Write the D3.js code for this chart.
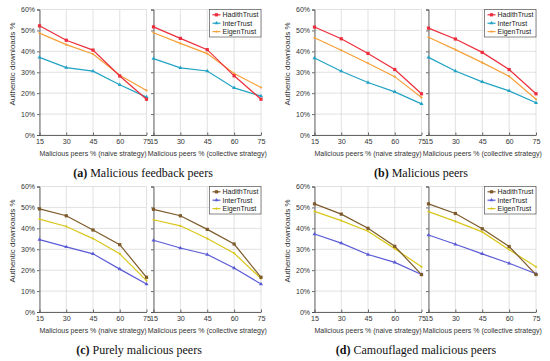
<!DOCTYPE html>
<html><head><meta charset="utf-8">
<script src="https://cdn.jsdelivr.net/npm/d3@7"></script>
<style>body{margin:0;background:#fff}svg{display:block}</style>
</head><body>
<script>
const xTicks = [15, 30, 45, 60, 75];
const yTicks = [0, 10, 20, 30, 40, 50, 60];
const seriesNames = ["HadithTrust", "InterTrust", "EigenTrust"];
const captions = [["(a)", " Malicious feedback peers"], ["(b)", " Malicious peers"], ["(c)", " Purely malicious peers"], ["(d)", " Camouflaged malicious peers"]];
const xTitles = ["Malicious peers % (naive strategy)", "Malicious peers % (collective strategy)"];
const colorsAB = ["#ec2d3c", "#22a3c4", "#f7a038"];
const colorsCD = ["#7d5a2a", "#5b5bd6", "#d9c61a"];

// panel a
const aNaiveHadith = [52.2, 45.3, 40.6, 28.2, 17.1];
const aNaiveInter = [37.1, 32.2, 30.5, 24.0, 18.1];
const aNaiveEigen = [48.7, 43.2, 38.7, 28.6, 21.3];
const aCollHadith = [51.7, 46.2, 40.8, 28.3, 17.1];
const aCollInter = [36.5, 32.1, 30.6, 22.5, 18.6];
const aCollEigen = [48.9, 43.8, 38.9, 29.4, 22.7];
// panel b
const bNaiveHadith = [51.6, 46.0, 39.0, 31.3, 19.7];
const bNaiveInter = [36.8, 30.5, 25.1, 20.6, 14.9];
const bNaiveEigen = [46.5, 40.5, 34.3, 27.9, 17.9];
const bCollHadith = [51.1, 45.9, 39.5, 31.3, 19.7];
const bCollInter = [37.1, 30.6, 25.4, 21.1, 15.4];
const bCollEigen = [46.7, 40.8, 34.6, 28.1, 17.1];
// panel c
const cNaiveHadith = [49.3, 46.0, 39.2, 32.2, 16.6];
const cNaiveInter = [34.6, 31.1, 27.8, 20.5, 13.4];
const cNaiveEigen = [44.4, 40.9, 35.1, 27.8, 15.0];
const cCollHadith = [49.1, 46.0, 39.5, 32.5, 16.6];
const cCollInter = [34.3, 30.6, 27.5, 21.0, 13.4];
const cCollEigen = [44.1, 41.2, 35.1, 28.1, 16.0];
// panel d
const dNaiveHadith = [51.7, 46.8, 40.0, 31.4, 17.9];
const dNaiveInter = [37.3, 32.9, 27.5, 23.7, 17.9];
const dNaiveEigen = [48.1, 43.7, 38.6, 30.3, 21.6];
const dCollHadith = [51.7, 47.1, 39.8, 31.3, 17.9];
const dCollInter = [36.8, 32.4, 27.8, 23.3, 18.3];
const dCollEigen = [48.0, 43.3, 38.3, 29.8, 21.6];

const panels = [
  {ox: 0, oy: 0, cx: 143, colors: colorsAB, cap: captions[0], naive: [aNaiveHadith, aNaiveInter, aNaiveEigen], coll: [aCollHadith, aCollInter, aCollEigen]},
  {ox: 275, oy: 0, cx: 146, colors: colorsAB, cap: captions[1], naive: [bNaiveHadith, bNaiveInter, bNaiveEigen], coll: [bCollHadith, bCollInter, bCollEigen]},
  {ox: 0, oy: 177, cx: 139, colors: colorsCD, cap: captions[2], naive: [cNaiveHadith, cNaiveInter, cNaiveEigen], coll: [cCollHadith, cCollInter, cCollEigen]},
  {ox: 275, oy: 177, cx: 141, colors: colorsCD, cap: captions[3], naive: [dNaiveHadith, dNaiveInter, dNaiveEigen], coll: [dCollHadith, dCollInter, dCollEigen]}
];

const svg = d3.select("body").append("svg").attr("width", 550).attr("height", 361)
  .style("font-family", "'Liberation Sans', Arial, sans-serif");

const plotTop = 9.5, plotBottom = 135;
const y = d3.scaleLinear().domain([0, 60]).range([plotBottom, plotTop]);
const subX = [[39.5, 146.5], [153.5, 261]];

function marker(g, idx, cx, cy, color) {
  if (idx === 0) {
    g.append("rect").attr("x", cx - 1.6).attr("y", cy - 1.6).attr("width", 3.2).attr("height", 3.2).attr("fill", color);
  } else if (idx === 1) {
    g.append("path").attr("d", d3.symbol(d3.symbolTriangle, 7)()).attr("transform", `translate(${cx},${cy})`).attr("fill", color);
  } else {
    g.append("circle").attr("cx", cx).attr("cy", cy).attr("r", 1.1).attr("fill", color);
  }
}

panels.forEach(p => {
  const pg = svg.append("g").attr("transform", `translate(${p.ox},${p.oy})`);
  [p.naive, p.coll].forEach((sets, si) => {
    const x = d3.scaleLinear().domain([15, 75]).range(subX[si]);
    const g = pg.append("g");
    g.selectAll(".gx").data(xTicks).enter().append("line")
      .attr("x1", d => x(d)).attr("x2", d => x(d)).attr("y1", plotTop).attr("y2", plotBottom)
      .attr("stroke", "#d9d9d9").attr("stroke-width", 0.8);
    g.selectAll(".gy").data(yTicks).enter().append("line")
      .attr("x1", subX[si][0]).attr("x2", subX[si][1]).attr("y1", d => y(d)).attr("y2", d => y(d))
      .attr("stroke", "#d9d9d9").attr("stroke-width", 0.8);
    const ya = d3.axisLeft(y).tickValues(yTicks).tickSize(2.5).tickFormat(si === 0 ? (d => d + "%") : (() => ""));
    const yg = g.append("g").attr("transform", `translate(${subX[si][0]},0)`).call(ya);
    yg.select(".domain").attr("stroke", "#444").attr("stroke-width", 0.8);
    yg.selectAll(".tick line").attr("stroke", "#444").attr("stroke-width", 0.8);
    yg.selectAll("text").attr("font-size", 7).attr("fill", "#333").attr("x", -4.5).attr("font-family", "'Liberation Sans', Arial, sans-serif");
    const xa = d3.axisBottom(x).tickValues(xTicks).tickSize(2.5).tickSizeOuter(0);
    const xg = g.append("g").attr("transform", `translate(0,${plotBottom})`).call(xa);
    xg.select(".domain").attr("stroke", "#444").attr("stroke-width", 0.8);
    xg.selectAll(".tick line").attr("stroke", "#444").attr("stroke-width", 0.8).attr("y1", 0).attr("y2", -2.5);
    xg.selectAll("text").attr("font-size", 7.2).attr("fill", "#333").attr("y", 3.5).attr("font-family", "'Liberation Sans', Arial, sans-serif");
    g.append("text").attr("x", (subX[si][0] + subX[si][1]) / 2).attr("y", 156)
      .attr("text-anchor", "middle").attr("font-size", 7).attr("fill", "#333").text(xTitles[si]);
    [2, 1, 0].forEach(k => {
      const vals = sets[k];
      const line = d3.line().x((d, i) => x(xTicks[i])).y(d => y(d));
      g.append("path").attr("d", line(vals)).attr("fill", "none").attr("stroke", p.colors[k]).attr("stroke-width", 1.2);
      vals.forEach((v, i) => marker(g, k, x(xTicks[i]), y(v), p.colors[k]));
    });
  });
  pg.append("text").attr("transform", `translate(14.5,64) rotate(-90)`)
    .attr("text-anchor", "middle").attr("font-size", 8).attr("fill", "#333").text("Authentic downloads %");
  const lg = pg.append("g");
  const lx = 209.5, ly = 9.5, lw = 51.5, lh = 27.5;
  lg.append("rect").attr("x", lx).attr("y", ly).attr("width", lw).attr("height", lh).attr("fill", "#fff").attr("stroke", "#555").attr("stroke-width", 0.7);
  seriesNames.forEach((n, k) => {
    const yy = ly + 5.3 + k * 8.4;
    lg.append("line").attr("x1", lx + 3).attr("x2", lx + 11).attr("y1", yy).attr("y2", yy).attr("stroke", p.colors[k]).attr("stroke-width", 1.2);
    marker(lg, k, lx + 7, yy, p.colors[k]);
    lg.append("text").attr("x", lx + 13).attr("y", yy + 2.5).attr("font-size", 7).attr("fill", "#222").text(n);
  });
  const cap = pg.append("text").attr("x", p.cx).attr("y", 176.5).attr("text-anchor", "middle")
    .attr("font-family", "'Liberation Serif', 'Times New Roman', serif").attr("font-size", 12).attr("fill", "#111");
  cap.append("tspan").attr("font-weight", "bold").text(p.cap[0]);
  cap.append("tspan").text(p.cap[1]);
});
</script>
</body></html>
